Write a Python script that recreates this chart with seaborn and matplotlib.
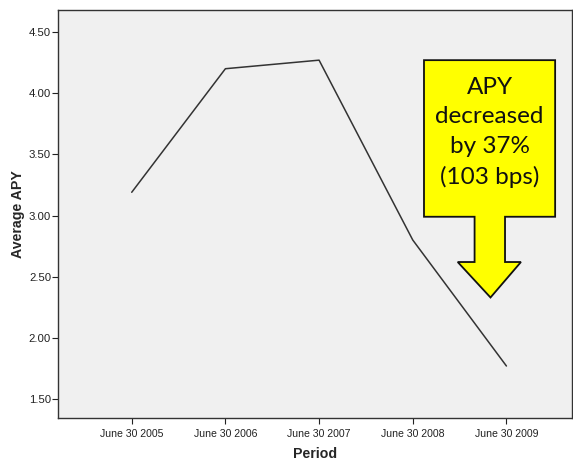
import matplotlib
matplotlib.use("Agg")
import matplotlib.pyplot as plt
from matplotlib.patches import Polygon
import seaborn as sns
import pandas as pd

periods = ["June 30 2005", "June 30 2006", "June 30 2007", "June 30 2008", "June 30 2009"]
avg_apy = [3.19, 4.20, 4.27, 2.80, 1.77]
y_ticks = [1.50, 2.00, 2.50, 3.00, 3.50, 4.00, 4.50]
callout_text = "APY\ndecreased\nby 37%\n(103 bps)"

df = pd.DataFrame({"Period": periods, "Average APY": avg_apy, "pos": range(len(periods))})

sns.set_style("ticks")
plt.rcParams["font.family"] = ["Liberation Sans", "DejaVu Sans"]

fig = plt.figure(figsize=(5.73, 4.62), dpi=100)
ax = fig.add_axes([58 / 573, 1 - 418 / 462, (572 - 58) / 573, (418 - 10) / 462])
ax.set_facecolor("#f0f0f0")

sns.lineplot(data=df, x="pos", y="Average APY", ax=ax, color="#333333", linewidth=1.1)

ax.set_xlim(-0.787, 4.70)
ax.set_ylim(1.345, 4.68)
ax.set_xticks(df["pos"])
ax.set_xticklabels(periods)
ax.set_yticks(y_ticks)
ax.set_yticklabels([f"{v:.2f}" for v in y_ticks])
ax.tick_params(axis="x", labelsize=7.6, colors="#222222", length=4, width=0.8, pad=4)
ax.tick_params(axis="y", labelsize=8.2, colors="#222222", length=4, width=0.8, pad=1)
for s in ax.spines.values():
    s.set_color("#333333")
    s.set_linewidth(1.0)

ax.set_xlabel("Period", fontsize=10.2, fontweight="bold", labelpad=6)
ax.set_ylabel("Average APY", fontsize=10.2, fontweight="bold", labelpad=2.5)

# yellow down-arrow callout
arrow = Polygon(
    [(3.12, 4.27), (4.52, 4.27), (4.52, 2.99), (3.985, 2.99), (3.985, 2.62),
     (4.155, 2.62), (3.83, 2.33), (3.48, 2.62), (3.66, 2.62), (3.66, 2.99),
     (3.12, 2.99)],
    closed=True, facecolor="#ffff00", edgecolor="#111111", linewidth=1.3, zorder=5)
ax.add_patch(arrow)
ax.text(3.82, 3.68, callout_text, ha="center", va="center", fontsize=17.5,
        family=["Lato", "DejaVu Sans"], linespacing=1.5, color="#111111", zorder=6)

fig.savefig("out.png", dpi=100)
